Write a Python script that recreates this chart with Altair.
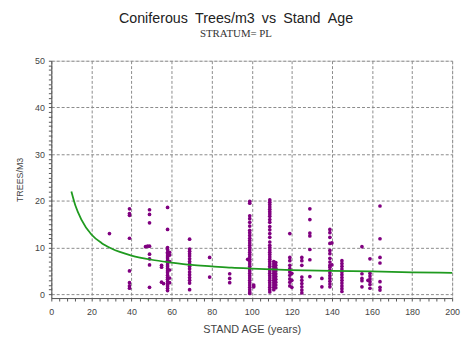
import altair as alt
import pandas as pd

# scatter data: stand age -> list of trees/m3 observations
ages_29 = [13.0]
ages_39 = [18.3, 17.3, 16.9, 12.0, 5.0, 2.5, 1.8, 1.3]
ages_47 = [10.2]
ages_48 = [10.3]
ages_49 = [18.1, 17.1, 15.3, 10.3, 8.6, 7.6, 6.3, 1.5]
ages_55 = [6.2, 5.8, 2.6]
ages_56 = [2.3]
ages_58 = [18.6, 13.9, 10.0, 9.6, 9.0, 8.7, 8.2, 7.8, 7.3, 6.8, 6.3, 5.9, 5.5, 5.0,
           4.6, 4.1, 3.6, 3.2, 2.7, 2.2, 1.8, 1.3, 0.8]
ages_59 = [9.0, 8.4, 7.0, 5.2, 3.5, 2.5]
ages_69 = [11.8, 9.7, 9.2, 8.7, 8.2, 7.6, 7.0, 6.5, 6.0, 5.5, 4.8, 4.2, 3.6, 3.0, 2.4, 1.0]
ages_79 = [7.9, 3.7]
ages_89 = [4.4, 3.4, 2.5]
ages_98 = [7.5]
ages_99 = [19.9, 19.5, 16.8, 16.2, 15.4, 14.6, 13.7, 13.2, 12.6, 12.0, 11.5, 11.0, 10.5,
           10.0, 9.5, 9.0, 8.5, 8.0, 7.5, 7.0, 6.5, 6.0, 5.5, 5.0, 4.5, 4.0, 3.5, 3.0,
           2.5, 2.0, 1.5, 1.0, 0.5, 0.2]
ages_101 = [2.0, 1.6]
ages_109 = [20.2, 19.7, 19.2, 18.7, 18.2, 17.7, 17.2, 16.7, 16.0, 15.4, 14.5, 13.8, 13.0,
            12.2, 11.2, 10.5, 10.0, 9.5, 9.0, 8.5, 8.0, 7.5, 7.0, 6.5, 6.0, 5.5, 5.0,
            4.5, 4.0, 3.5, 3.0, 2.5, 2.0, 1.5, 1.0, 0.5]
ages_111 = [7.0, 6.5, 6.0, 5.5, 5.0, 4.5, 4.0, 3.5, 3.0, 2.5, 2.0, 1.5, 1.0]
ages_112 = [6.8, 6.2, 5.6, 5.0, 4.4, 3.8, 3.2, 2.6, 2.0, 1.4]
ages_119 = [13.0, 7.9, 7.2, 6.2, 5.5, 4.8, 4.1, 3.3, 2.6, 1.8]
ages_120 = [4.5, 3.0, 1.5]
ages_125 = [7.9, 7.2, 6.2, 3.7, 3.0, 2.3, 1.6, 0.9, 0.3]
ages_129 = [18.3, 16.0, 13.1, 12.5, 9.6, 7.4, 3.8]
ages_135 = [3.4, 1.6]
ages_139 = [13.9, 13.2, 12.2, 10.9, 9.4, 8.7, 7.7, 6.9, 6.2, 5.8, 5.2, 4.6, 4.0, 3.4,
            2.8, 2.2, 1.6]
ages_140 = [11.0, 6.3]
ages_145 = [7.2, 6.6, 6.0, 5.4, 4.8, 4.2, 3.6, 3.0, 2.4, 1.8, 1.2, 0.6]
ages_155 = [10.2, 4.4, 3.4, 2.9, 1.6]
ages_158 = [3.0]
ages_159 = [7.6, 4.5, 3.9, 3.3, 2.7, 2.1, 1.3]
ages_164 = [18.9, 11.9, 7.9, 6.7, 2.7, 1.5, 0.9]

groups = {29: ages_29, 39: ages_39, 47: ages_47, 48: ages_48, 49: ages_49, 55: ages_55,
          56: ages_56, 58: ages_58, 59: ages_59, 69: ages_69, 79: ages_79, 89: ages_89,
          98: ages_98, 99: ages_99, 101: ages_101, 109: ages_109, 111: ages_111,
          112: ages_112, 119: ages_119, 120: ages_120, 125: ages_125, 129: ages_129,
          135: ages_135, 139: ages_139, 140: ages_140, 145: ages_145, 155: ages_155,
          158: ages_158, 159: ages_159, 164: ages_164}

# fitted curve
curve_age = [10, 12, 15, 20, 25, 30, 40, 50, 60, 70, 80, 90, 100, 120, 140, 160, 180, 200]
curve_val = [22.0, 19.0, 16.0, 12.8, 11.0, 9.8, 8.3, 7.4, 6.8, 6.3, 6.0, 5.7, 5.5, 5.2,
             5.0, 4.9, 4.7, 4.6]

x_ticks = list(range(0, 201, 4))
y_ticks = list(range(0, 51, 1))

rows = [{"age": a, "trees": v} for a, vals in groups.items() for v in vals]
pts = pd.DataFrame(rows)
curve = pd.DataFrame({"age": curve_age, "trees": curve_val})

grid_dash = [3, 2]
x_axis = alt.Axis(
    values=x_ticks, tickCount=200, format="d",
    labelExpr="datum.value % 20 === 0 ? datum.label : ''",
    gridOpacity={"condition": {"test": "datum.value % 20 === 0", "value": 1}, "value": 0},
    grid=True, gridColor="#8a8a8a", gridDash=grid_dash, gridWidth=1,
    tickSize=3, tickColor="#555", domainColor="#555", labelColor="#444",
    labelFont="Liberation Sans", labelFontSize=9, labelPadding=7,
    title="STAND AGE (years)", titleFont="Liberation Sans", titleFontSize=11,
    titleFontWeight="normal", titleColor="#444", titlePadding=7, labelFlush=False,
    labelOverlap=False,
)
y_axis = alt.Axis(
    values=y_ticks, tickCount=200, format="d",
    labelExpr="datum.value % 10 === 0 ? datum.label : ''",
    gridOpacity={"condition": {"test": "datum.value % 10 === 0", "value": 1}, "value": 0},
    grid=True, gridColor="#8a8a8a", gridDash=grid_dash, gridWidth=1,
    tickSize=3, tickColor="#555", domainColor="#555", labelColor="#444",
    labelFont="Liberation Sans", labelFontSize=9, labelPadding=4,
    title="TREES/M3", titleFont="Liberation Sans", titleFontSize=9,
    titleFontWeight="normal", titleColor="#444", titlePadding=10, labelFlush=False,
    labelOverlap=False,
)

xs = alt.X("age:Q", scale=alt.Scale(domain=[0, 200], nice=False), axis=x_axis)
ys = alt.Y("trees:Q", scale=alt.Scale(domain=[-0.8, 50], nice=False, zero=False), axis=y_axis)

points = alt.Chart(pts).mark_circle(color="#800080", size=14, opacity=1).encode(x=xs, y=ys)
line = alt.Chart(curve).mark_line(color="#1f9a1f", strokeWidth=1.8, interpolate="monotone").encode(
    x="age:Q", y="trees:Q")

chart = alt.layer(points, line).properties(
    width=407, height=241,
    autosize=alt.AutoSizeParams(type="none"),
    padding={"left": 44, "top": 51, "right": 9, "bottom": 37},
    title=alt.TitleParams(
        text="Coniferous\u2002Trees/m3\u2002vs\u2002Stand\u2002Age", subtitle="STRATUM= PL",
        font="Liberation Sans", fontSize=14.5, fontWeight="normal", color="#222",
        subtitleFont="Liberation Serif", subtitleFontSize=11, subtitleColor="#333",
        subtitlePadding=2, anchor="middle", offset=17, dx=-16,
    ),
).configure_view(stroke=None).configure(background="white")

chart.save("out.html", embed_options={"renderer": "svg", "actions": False})
